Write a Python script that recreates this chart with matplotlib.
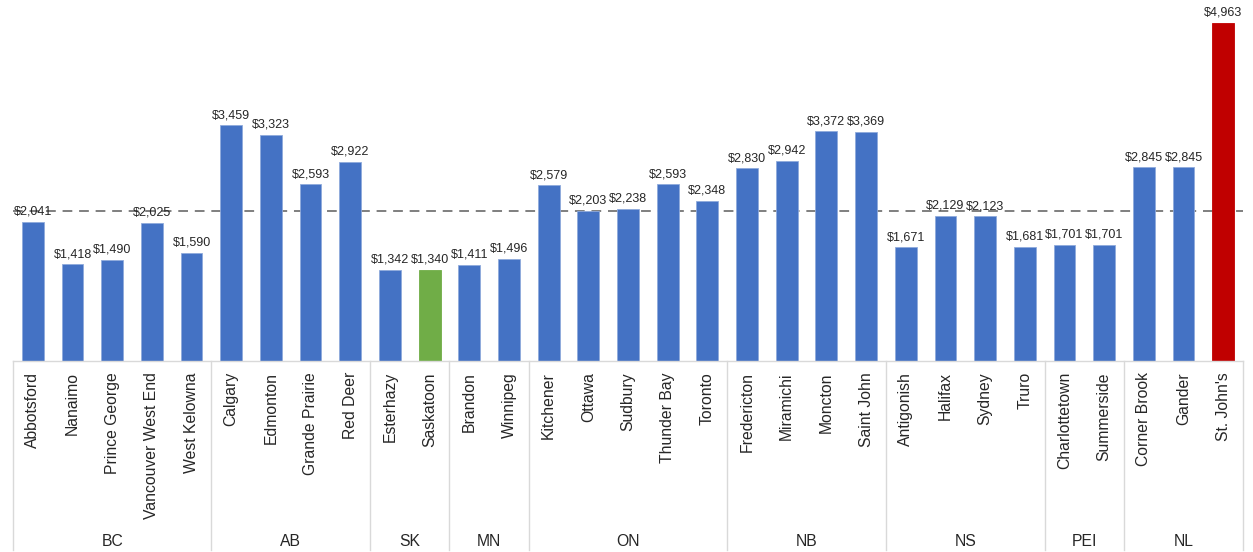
import numpy as np
import matplotlib
matplotlib.use("Agg")
import matplotlib.pyplot as plt
from matplotlib.transforms import blended_transform_factory

plt.rcParams["font.family"] = ["Liberation Sans", "DejaVu Sans"]

cities = ["Abbotsford", "Nanaimo", "Prince George", "Vancouver West End", "West Kelowna",
          "Calgary", "Edmonton", "Grande Prairie", "Red Deer",
          "Esterhazy", "Saskatoon",
          "Brandon", "Winnipeg",
          "Kitchener", "Ottawa", "Sudbury", "Thunder Bay", "Toronto",
          "Fredericton", "Miramichi", "Moncton", "Saint John",
          "Antigonish", "Halifax", "Sydney", "Truro",
          "Charlottetown", "Summerside",
          "Corner Brook", "Gander", "St. John's"]
costs = [2041, 1418, 1490, 2025, 1590,
         3459, 3323, 2593, 2922,
         1342, 1340,
         1411, 1496,
         2579, 2203, 2238, 2593, 2348,
         2830, 2942, 3372, 3369,
         1671, 2129, 2123, 1681,
         1701, 1701,
         2845, 2845, 4963]
provinces = ["BC", "AB", "SK", "MN", "ON", "NB", "NS", "PEI", "NL"]
province_sizes = [5, 4, 2, 2, 5, 4, 4, 2, 3]
highlight = {"Saskatoon": "#70AD47", "St. John's": "#C00000"}

BLUE = "#4472C4"
GRID = "#D9D9D9"

fig = plt.figure(figsize=(12.53, 5.52), dpi=100)
ax = fig.add_axes([13 / 1253, 1 - 361 / 552, 1230 / 1253, 361 / 552])

x = np.arange(len(cities))
colors = [highlight.get(c, BLUE) for c in cities]
bars = ax.bar(x, costs, width=0.55, color=colors, edgecolor="#8FAADC", linewidth=0.6)
for b, c in zip(bars, colors):
    if c != BLUE:
        b.set_edgecolor(c)
ax.bar_label(bars, labels=[f"${v:,}" for v in costs], padding=3, fontsize=9, color="#262626")

# median reference line
ax.axhline(np.median(costs), color="#7F7F7F", linestyle=(0, (5, 3.5)), linewidth=1.4, zorder=0.5)

ax.set_xlim(-0.5, len(cities) - 0.5)
ax.set_ylim(0, 5300)
ax.set_yticks([])
for s in ["left", "right", "top"]:
    ax.spines[s].set_visible(False)
ax.spines["bottom"].set_color(GRID)
ax.spines["bottom"].set_linewidth(1)

ax.set_xticks(x)
ax.set_xticklabels(cities, rotation=90, fontsize=11.3, color="#262626", va="top")
ax.tick_params(axis="x", length=0, pad=8)

# province grouping
trans = blended_transform_factory(ax.transData, ax.transAxes)
bottom = -(550 - 361) / 361
edges = np.concatenate([[0], np.cumsum(province_sizes)]) - 0.5
for e in edges:
    ax.plot([e, e], [0, bottom], transform=trans, color=GRID, linewidth=1, clip_on=False)
for name, lo, hi in zip(provinces, edges[:-1], edges[1:]):
    ax.text((lo + hi) / 2, -(541 - 361) / 361, name, transform=trans,
            ha="center", va="center", fontsize=11.3, color="#262626")

fig.savefig("out.png", dpi=100)
